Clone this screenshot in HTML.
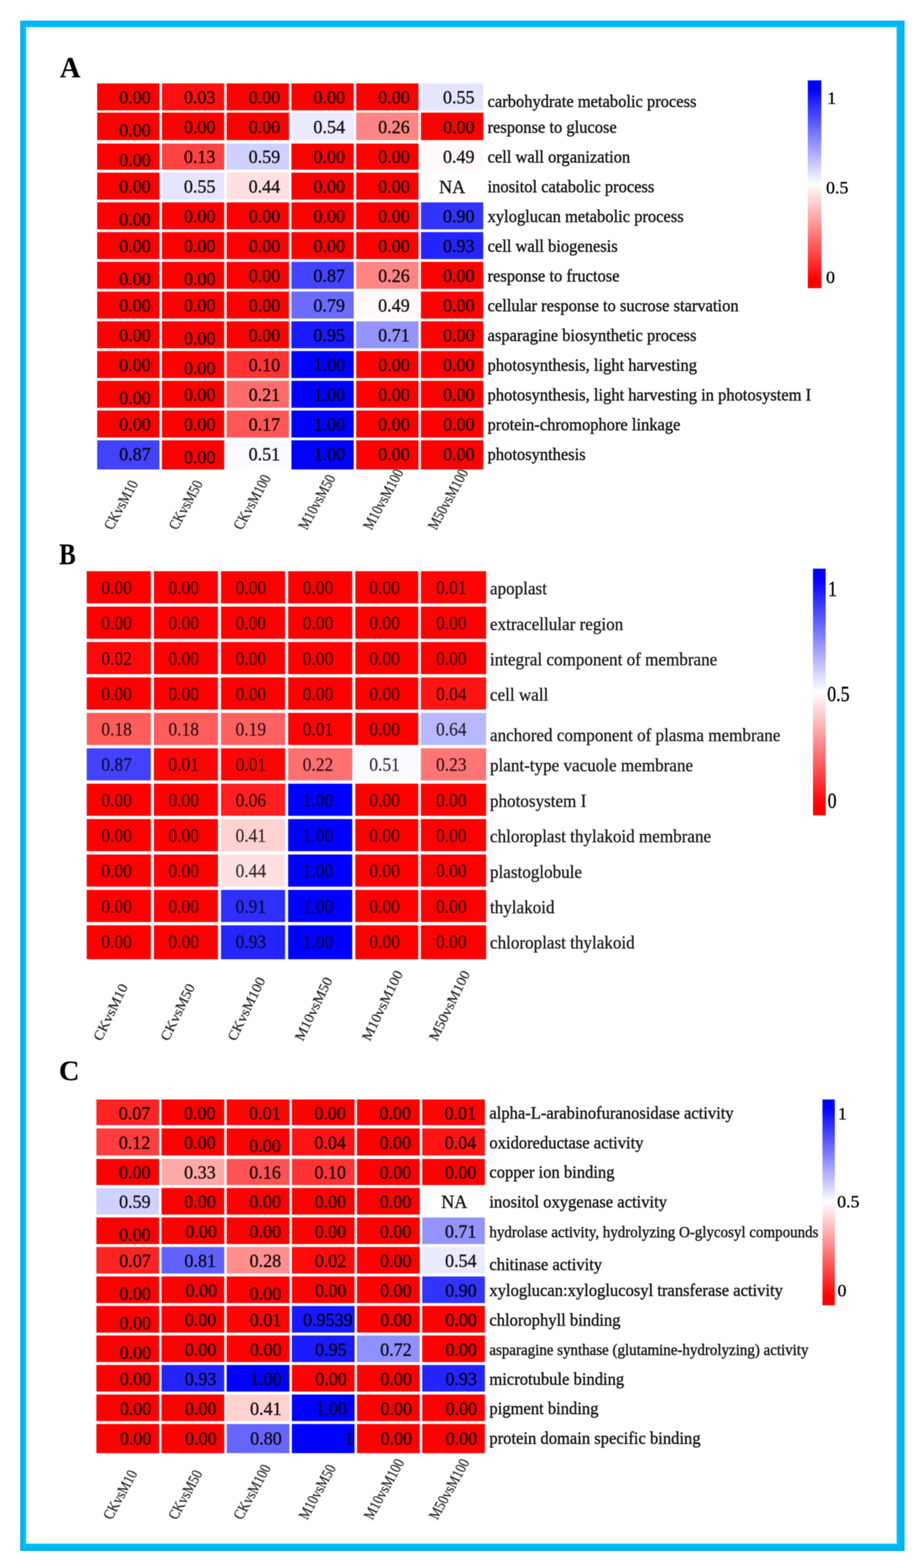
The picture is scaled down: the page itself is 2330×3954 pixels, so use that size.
<!DOCTYPE html>
<html lang="en"><head><meta charset="utf-8"><title>GO enrichment heatmaps</title>
<style>
html,body{margin:0;padding:0;background:#fff;}
body{width:2330px;height:3954px;overflow:hidden;}
svg{display:block;}
svg text{font-family:"Liberation Serif", "Times New Roman", serif;fill:#000;stroke:#000;paint-order:stroke fill;}
svg .cl text{stroke-width:0.5px;}
</style></head><body>
<svg width="2330" height="3954" viewBox="0 0 2330 3954" stroke-width="0.7">
<defs>
<linearGradient id="cb" x1="0" y1="0" x2="0" y2="1"><stop offset="0" stop-color="#0000ff"/><stop offset="0.04" stop-color="#0000ff"/><stop offset="0.5" stop-color="#ffffff"/><stop offset="0.96" stop-color="#ff0000"/><stop offset="1" stop-color="#ff0000"/></linearGradient>
<filter id="b1" x="-1%" y="-1%" width="102%" height="102%" color-interpolation-filters="sRGB"><feGaussianBlur stdDeviation="0.9"/></filter>
<filter id="b2" x="-2%" y="-2%" width="104%" height="104%" color-interpolation-filters="sRGB"><feGaussianBlur stdDeviation="0.9"/></filter>
</defs>
<rect width="2330" height="3954" fill="#ffffff"/>
<g id="frame">
<path fill="#b4edff" fill-rule="evenodd" d="M64.7 67.5H2262.1V3893.5H64.7ZM67.2 70V3891H2259.6V70Z"/>
<path fill="#00b3f4" fill-rule="evenodd" d="M51 52H2281V3911H51ZM65.2 68V3893H2261.6V68Z"/>
<path fill="#00bdfd" fill-rule="evenodd" d="M59.2 62H2267.6V3899H59.2ZM65.2 68V3893H2261.6V68Z"/>
</g>
<g id="panel-A">
<g filter="url(#b1)">
<rect x="2037" y="202.7" width="34" height="524" fill="url(#cb)"/>
<rect x="245" y="210.3" width="157" height="68" fill="rgb(255,0,0)"/>
<rect x="408.3" y="210.3" width="157" height="68" fill="rgb(255,15,15)"/>
<rect x="571.6" y="210.3" width="157" height="68" fill="rgb(255,0,0)"/>
<rect x="734.9" y="210.3" width="157" height="68" fill="rgb(255,0,0)"/>
<rect x="898.2" y="210.3" width="157" height="68" fill="rgb(255,0,0)"/>
<rect x="1061.5" y="210.3" width="157" height="68" fill="rgb(229,229,255)"/>
<rect x="245" y="284" width="157" height="69.3" fill="rgb(255,0,0)"/>
<rect x="408.3" y="284" width="157" height="69.3" fill="rgb(255,0,0)"/>
<rect x="571.6" y="284" width="157" height="69.3" fill="rgb(255,0,0)"/>
<rect x="734.9" y="284" width="157" height="69.3" fill="rgb(235,235,255)"/>
<rect x="898.2" y="284" width="157" height="69.3" fill="rgb(255,133,133)"/>
<rect x="1061.5" y="284" width="157" height="69.3" fill="rgb(255,0,0)"/>
<rect x="245" y="362" width="157" height="65.8" fill="rgb(255,0,0)"/>
<rect x="408.3" y="362" width="157" height="65.8" fill="rgb(255,66,66)"/>
<rect x="571.6" y="362" width="157" height="65.8" fill="rgb(209,209,255)"/>
<rect x="734.9" y="362" width="157" height="65.8" fill="rgb(255,0,0)"/>
<rect x="898.2" y="362" width="157" height="65.8" fill="rgb(255,0,0)"/>
<rect x="1061.5" y="362" width="157" height="65.8" fill="rgb(255,250,250)"/>
<rect x="245" y="435.3" width="157" height="68" fill="rgb(255,0,0)"/>
<rect x="408.3" y="435.3" width="157" height="68" fill="rgb(229,229,255)"/>
<rect x="571.6" y="435.3" width="157" height="68" fill="rgb(255,224,224)"/>
<rect x="734.9" y="435.3" width="157" height="68" fill="rgb(255,0,0)"/>
<rect x="898.2" y="435.3" width="157" height="68" fill="rgb(255,0,0)"/>
<rect x="245" y="510.3" width="157" height="68" fill="rgb(255,0,0)"/>
<rect x="408.3" y="510.3" width="157" height="68" fill="rgb(255,0,0)"/>
<rect x="571.6" y="510.3" width="157" height="68" fill="rgb(255,0,0)"/>
<rect x="734.9" y="510.3" width="157" height="68" fill="rgb(255,0,0)"/>
<rect x="898.2" y="510.3" width="157" height="68" fill="rgb(255,0,0)"/>
<rect x="1061.5" y="510.3" width="157" height="68" fill="rgb(51,51,255)"/>
<rect x="245" y="585.3" width="157" height="68" fill="rgb(255,0,0)"/>
<rect x="408.3" y="585.3" width="157" height="68" fill="rgb(255,0,0)"/>
<rect x="571.6" y="585.3" width="157" height="68" fill="rgb(255,0,0)"/>
<rect x="734.9" y="585.3" width="157" height="68" fill="rgb(255,0,0)"/>
<rect x="898.2" y="585.3" width="157" height="68" fill="rgb(255,0,0)"/>
<rect x="1061.5" y="585.3" width="157" height="68" fill="rgb(36,36,255)"/>
<rect x="245" y="660.3" width="157" height="68" fill="rgb(255,0,0)"/>
<rect x="408.3" y="660.3" width="157" height="68" fill="rgb(255,0,0)"/>
<rect x="571.6" y="660.3" width="157" height="68" fill="rgb(255,0,0)"/>
<rect x="734.9" y="660.3" width="157" height="68" fill="rgb(66,66,255)"/>
<rect x="898.2" y="660.3" width="157" height="68" fill="rgb(255,133,133)"/>
<rect x="1061.5" y="660.3" width="157" height="68" fill="rgb(255,0,0)"/>
<rect x="245" y="735.3" width="157" height="68" fill="rgb(255,0,0)"/>
<rect x="408.3" y="735.3" width="157" height="68" fill="rgb(255,0,0)"/>
<rect x="571.6" y="735.3" width="157" height="68" fill="rgb(255,0,0)"/>
<rect x="734.9" y="735.3" width="157" height="68" fill="rgb(107,107,255)"/>
<rect x="898.2" y="735.3" width="157" height="68" fill="rgb(255,250,250)"/>
<rect x="1061.5" y="735.3" width="157" height="68" fill="rgb(255,0,0)"/>
<rect x="245" y="810.3" width="157" height="68" fill="rgb(255,0,0)"/>
<rect x="408.3" y="810.3" width="157" height="68" fill="rgb(255,0,0)"/>
<rect x="571.6" y="810.3" width="157" height="68" fill="rgb(255,0,0)"/>
<rect x="734.9" y="810.3" width="157" height="68" fill="rgb(26,26,255)"/>
<rect x="898.2" y="810.3" width="157" height="68" fill="rgb(148,148,255)"/>
<rect x="1061.5" y="810.3" width="157" height="68" fill="rgb(255,0,0)"/>
<rect x="245" y="885.3" width="157" height="68" fill="rgb(255,0,0)"/>
<rect x="408.3" y="885.3" width="157" height="68" fill="rgb(255,0,0)"/>
<rect x="571.6" y="885.3" width="157" height="68" fill="rgb(255,51,51)"/>
<rect x="734.9" y="885.3" width="157" height="68" fill="rgb(0,0,255)"/>
<rect x="898.2" y="885.3" width="157" height="68" fill="rgb(255,0,0)"/>
<rect x="1061.5" y="885.3" width="157" height="68" fill="rgb(255,0,0)"/>
<rect x="245" y="960.3" width="157" height="68" fill="rgb(255,0,0)"/>
<rect x="408.3" y="960.3" width="157" height="68" fill="rgb(255,0,0)"/>
<rect x="571.6" y="960.3" width="157" height="68" fill="rgb(255,107,107)"/>
<rect x="734.9" y="960.3" width="157" height="68" fill="rgb(0,0,255)"/>
<rect x="898.2" y="960.3" width="157" height="68" fill="rgb(255,0,0)"/>
<rect x="1061.5" y="960.3" width="157" height="68" fill="rgb(255,0,0)"/>
<rect x="245" y="1035.3" width="157" height="68" fill="rgb(255,0,0)"/>
<rect x="408.3" y="1035.3" width="157" height="68" fill="rgb(255,0,0)"/>
<rect x="571.6" y="1035.3" width="157" height="68" fill="rgb(255,87,87)"/>
<rect x="734.9" y="1035.3" width="157" height="68" fill="rgb(0,0,255)"/>
<rect x="898.2" y="1035.3" width="157" height="68" fill="rgb(255,0,0)"/>
<rect x="1061.5" y="1035.3" width="157" height="68" fill="rgb(255,0,0)"/>
<rect x="245" y="1110.3" width="157" height="73.5" fill="rgb(66,66,255)"/>
<rect x="408.3" y="1110.3" width="157" height="73.5" fill="rgb(255,0,0)"/>
<rect x="571.6" y="1110.3" width="157" height="73.5" fill="rgb(250,250,255)"/>
<rect x="734.9" y="1110.3" width="157" height="73.5" fill="rgb(0,0,255)"/>
<rect x="898.2" y="1110.3" width="157" height="73.5" fill="rgb(255,0,0)"/>
<rect x="1061.5" y="1110.3" width="157" height="73.5" fill="rgb(255,0,0)"/>
</g>
<g filter="url(#b2)">
<text transform="translate(151 195) scale(1 1.02)" font-size="72" font-weight="bold" stroke-width="0.2">A</text>
<g stroke-width="0.8" opacity="0.92">
<text transform="translate(380 260.6) scale(1 1.03)" font-size="45.5" text-anchor="end">0.00</text>
<text transform="translate(543.3 260.6) scale(1 1.03)" font-size="45.5" text-anchor="end">0.03</text>
<text transform="translate(706.6 260.6) scale(1 1.03)" font-size="45.5" text-anchor="end">0.00</text>
<text transform="translate(869.9 260.6) scale(1 1.03)" font-size="45.5" text-anchor="end">0.00</text>
<text transform="translate(1033.2 260.6) scale(1 1.03)" font-size="45.5" text-anchor="end">0.00</text>
<text transform="translate(1196.5 260.6) scale(1 1.03)" font-size="45.5" text-anchor="end">0.55</text>
<text transform="translate(380 343.6) scale(1 1.03)" font-size="45.5" text-anchor="end">0.00</text>
<text transform="translate(543.3 335.6) scale(1 1.03)" font-size="45.5" text-anchor="end">0.00</text>
<text transform="translate(706.6 335.6) scale(1 1.03)" font-size="45.5" text-anchor="end">0.00</text>
<text transform="translate(869.9 335.6) scale(1 1.03)" font-size="45.5" text-anchor="end">0.54</text>
<text transform="translate(1033.2 335.6) scale(1 1.03)" font-size="45.5" text-anchor="end">0.26</text>
<text transform="translate(1196.5 335.6) scale(1 1.03)" font-size="45.5" text-anchor="end">0.00</text>
<text transform="translate(380 418.6) scale(1 1.03)" font-size="45.5" text-anchor="end">0.00</text>
<text transform="translate(543.3 410.6) scale(1 1.03)" font-size="45.5" text-anchor="end">0.13</text>
<text transform="translate(706.6 410.6) scale(1 1.03)" font-size="45.5" text-anchor="end">0.59</text>
<text transform="translate(869.9 410.6) scale(1 1.03)" font-size="45.5" text-anchor="end">0.00</text>
<text transform="translate(1033.2 410.6) scale(1 1.03)" font-size="45.5" text-anchor="end">0.00</text>
<text transform="translate(1196.5 410.6) scale(1 1.03)" font-size="45.5" text-anchor="end">0.49</text>
<text transform="translate(380 485.6) scale(1 1.03)" font-size="45.5" text-anchor="end">0.00</text>
<text transform="translate(543.3 485.6) scale(1 1.03)" font-size="45.5" text-anchor="end">0.55</text>
<text transform="translate(706.6 485.6) scale(1 1.03)" font-size="45.5" text-anchor="end">0.44</text>
<text transform="translate(869.9 485.6) scale(1 1.03)" font-size="45.5" text-anchor="end">0.00</text>
<text transform="translate(1033.2 485.6) scale(1 1.03)" font-size="45.5" text-anchor="end">0.00</text>
<text transform="translate(1173 487.1) scale(1 1.03)" font-size="45.5" text-anchor="end">NA</text>
<text transform="translate(380 568.6) scale(1 1.03)" font-size="45.5" text-anchor="end">0.00</text>
<text transform="translate(543.3 560.6) scale(1 1.03)" font-size="45.5" text-anchor="end">0.00</text>
<text transform="translate(706.6 560.6) scale(1 1.03)" font-size="45.5" text-anchor="end">0.00</text>
<text transform="translate(869.9 560.6) scale(1 1.03)" font-size="45.5" text-anchor="end">0.00</text>
<text transform="translate(1033.2 560.6) scale(1 1.03)" font-size="45.5" text-anchor="end">0.00</text>
<text transform="translate(1196.5 560.6) scale(1 1.03)" font-size="45.5" text-anchor="end">0.90</text>
<text transform="translate(380 635.6) scale(1 1.03)" font-size="45.5" text-anchor="end">0.00</text>
<text transform="translate(543.3 635.6) scale(1 1.03)" font-size="45.5" text-anchor="end">0.00</text>
<text transform="translate(706.6 635.6) scale(1 1.03)" font-size="45.5" text-anchor="end">0.00</text>
<text transform="translate(869.9 635.6) scale(1 1.03)" font-size="45.5" text-anchor="end">0.00</text>
<text transform="translate(1033.2 635.6) scale(1 1.03)" font-size="45.5" text-anchor="end">0.00</text>
<text transform="translate(1196.5 635.6) scale(1 1.03)" font-size="45.5" text-anchor="end">0.93</text>
<text transform="translate(380 718.6) scale(1 1.03)" font-size="45.5" text-anchor="end">0.00</text>
<text transform="translate(543.3 718.6) scale(1 1.03)" font-size="45.5" text-anchor="end">0.00</text>
<text transform="translate(706.6 710.6) scale(1 1.03)" font-size="45.5" text-anchor="end">0.00</text>
<text transform="translate(869.9 710.6) scale(1 1.03)" font-size="45.5" text-anchor="end">0.87</text>
<text transform="translate(1033.2 710.6) scale(1 1.03)" font-size="45.5" text-anchor="end">0.26</text>
<text transform="translate(1196.5 710.6) scale(1 1.03)" font-size="45.5" text-anchor="end">0.00</text>
<text transform="translate(380 785.6) scale(1 1.03)" font-size="45.5" text-anchor="end">0.00</text>
<text transform="translate(543.3 785.6) scale(1 1.03)" font-size="45.5" text-anchor="end">0.00</text>
<text transform="translate(706.6 785.6) scale(1 1.03)" font-size="45.5" text-anchor="end">0.00</text>
<text transform="translate(869.9 785.6) scale(1 1.03)" font-size="45.5" text-anchor="end">0.79</text>
<text transform="translate(1033.2 785.6) scale(1 1.03)" font-size="45.5" text-anchor="end">0.49</text>
<text transform="translate(1196.5 785.6) scale(1 1.03)" font-size="45.5" text-anchor="end">0.00</text>
<text transform="translate(380 860.6) scale(1 1.03)" font-size="45.5" text-anchor="end">0.00</text>
<text transform="translate(543.3 868.6) scale(1 1.03)" font-size="45.5" text-anchor="end">0.00</text>
<text transform="translate(706.6 860.6) scale(1 1.03)" font-size="45.5" text-anchor="end">0.00</text>
<text transform="translate(869.9 860.6) scale(1 1.03)" font-size="45.5" text-anchor="end">0.95</text>
<text transform="translate(1033.2 860.6) scale(1 1.03)" font-size="45.5" text-anchor="end">0.71</text>
<text transform="translate(1196.5 860.6) scale(1 1.03)" font-size="45.5" text-anchor="end">0.00</text>
<text transform="translate(380 935.6) scale(1 1.03)" font-size="45.5" text-anchor="end">0.00</text>
<text transform="translate(543.3 943.6) scale(1 1.03)" font-size="45.5" text-anchor="end">0.00</text>
<text transform="translate(706.6 935.6) scale(1 1.03)" font-size="45.5" text-anchor="end">0.10</text>
<text transform="translate(869.9 935.6) scale(1 1.03)" font-size="45.5" text-anchor="end">1.00</text>
<text transform="translate(1033.2 935.6) scale(1 1.03)" font-size="45.5" text-anchor="end">0.00</text>
<text transform="translate(1196.5 935.6) scale(1 1.03)" font-size="45.5" text-anchor="end">0.00</text>
<text transform="translate(380 1018.6) scale(1 1.03)" font-size="45.5" text-anchor="end">0.00</text>
<text transform="translate(543.3 1010.6) scale(1 1.03)" font-size="45.5" text-anchor="end">0.00</text>
<text transform="translate(706.6 1010.6) scale(1 1.03)" font-size="45.5" text-anchor="end">0.21</text>
<text transform="translate(869.9 1010.6) scale(1 1.03)" font-size="45.5" text-anchor="end">1.00</text>
<text transform="translate(1033.2 1010.6) scale(1 1.03)" font-size="45.5" text-anchor="end">0.00</text>
<text transform="translate(1196.5 1010.6) scale(1 1.03)" font-size="45.5" text-anchor="end">0.00</text>
<text transform="translate(380 1085.6) scale(1 1.03)" font-size="45.5" text-anchor="end">0.00</text>
<text transform="translate(543.3 1085.6) scale(1 1.03)" font-size="45.5" text-anchor="end">0.00</text>
<text transform="translate(706.6 1085.6) scale(1 1.03)" font-size="45.5" text-anchor="end">0.17</text>
<text transform="translate(869.9 1085.6) scale(1 1.03)" font-size="45.5" text-anchor="end">1.00</text>
<text transform="translate(1033.2 1085.6) scale(1 1.03)" font-size="45.5" text-anchor="end">0.00</text>
<text transform="translate(1196.5 1085.6) scale(1 1.03)" font-size="45.5" text-anchor="end">0.00</text>
<text transform="translate(380 1160.6) scale(1 1.03)" font-size="45.5" text-anchor="end">0.87</text>
<text transform="translate(543.3 1168.6) scale(1 1.03)" font-size="45.5" text-anchor="end">0.00</text>
<text transform="translate(706.6 1160.6) scale(1 1.03)" font-size="45.5" text-anchor="end">0.51</text>
<text transform="translate(869.9 1160.6) scale(1 1.03)" font-size="45.5" text-anchor="end">1.00</text>
<text transform="translate(1033.2 1160.6) scale(1 1.03)" font-size="45.5" text-anchor="end">0.00</text>
<text transform="translate(1196.5 1160.6) scale(1 1.03)" font-size="45.5" text-anchor="end">0.00</text>
</g>
<g stroke-width="0.9" opacity="0.92">
<text transform="translate(1229.5 269.6) scale(1 1.04)" font-size="41.6">carbohydrate metabolic process</text>
<text transform="translate(1229.5 334.6) scale(1 1.04)" font-size="41.6">response to glucose</text>
<text transform="translate(1229.5 409.6) scale(1 1.04)" font-size="41.6">cell wall organization</text>
<text transform="translate(1229.5 484.6) scale(1 1.04)" font-size="41.6">inositol catabolic process</text>
<text transform="translate(1229.5 559.6) scale(1 1.04)" font-size="41.6">xyloglucan metabolic process</text>
<text transform="translate(1229.5 634.6) scale(1 1.04)" font-size="41.6">cell wall biogenesis</text>
<text transform="translate(1229.5 709.6) scale(1 1.04)" font-size="41.6">response to fructose</text>
<text transform="translate(1229.5 784.6) scale(1 1.04)" font-size="41.6">cellular response to sucrose starvation</text>
<text transform="translate(1229.5 859.6) scale(1 1.04)" font-size="41.6">asparagine biosynthetic process</text>
<text transform="translate(1229.5 934.6) scale(1 1.04)" font-size="41.6">photosynthesis, light harvesting</text>
<text transform="translate(1229.5 1009.6) scale(1 1.04)" font-size="41.6">photosynthesis, light harvesting in photosystem I</text>
<text transform="translate(1229.5 1084.6) scale(1 1.04)" font-size="41.6">protein-chromophore linkage</text>
<text transform="translate(1229.5 1159.6) scale(1 1.04)" font-size="41.6">photosynthesis</text>
</g>
<g class="cl" opacity="0.85">
<text transform="matrix(0.4945 -0.8921 1.0876 0.5071 283.5 1338)" font-size="32">CKvsM10</text>
<text transform="matrix(0.4945 -0.8921 1.0876 0.5071 446.8 1338)" font-size="32">CKvsM50</text>
<text transform="matrix(0.4945 -0.8921 1.0876 0.5071 610.1 1338)" font-size="32">CKvsM100</text>
<text transform="matrix(0.4945 -0.8921 1.0876 0.5071 773.4 1338)" font-size="32">M10vsM50</text>
<text transform="matrix(0.4945 -0.8921 1.0876 0.5071 936.7 1338)" font-size="32">M10vsM100</text>
<text transform="matrix(0.4945 -0.8921 1.0876 0.5071 1100 1338)" font-size="32">M50vsM100</text>
</g>
<text x="2086" y="262" font-size="45">1</text>
<text x="2083" y="487.5" font-size="45">0.5</text>
<text x="2083" y="714" font-size="45">0</text>
</g>
</g>
<g id="panel-B">
<g filter="url(#b1)">
<rect x="2050" y="1434" width="32" height="622" fill="url(#cb)"/>
<rect x="218.7" y="1440.4" width="161.5" height="81" fill="rgb(255,0,0)"/>
<rect x="388" y="1440.4" width="161.5" height="81" fill="rgb(255,0,0)"/>
<rect x="557.3" y="1440.4" width="161.5" height="81" fill="rgb(255,0,0)"/>
<rect x="726.6" y="1440.4" width="161.5" height="81" fill="rgb(255,0,0)"/>
<rect x="896" y="1440.4" width="158.6" height="81" fill="rgb(255,0,0)"/>
<rect x="1061.4" y="1440.4" width="164.4" height="81" fill="rgb(255,5,5)"/>
<rect x="218.7" y="1529.7" width="161.5" height="81" fill="rgb(255,0,0)"/>
<rect x="388" y="1529.7" width="161.5" height="81" fill="rgb(255,0,0)"/>
<rect x="557.3" y="1529.7" width="161.5" height="81" fill="rgb(255,0,0)"/>
<rect x="726.6" y="1529.7" width="161.5" height="81" fill="rgb(255,0,0)"/>
<rect x="896" y="1529.7" width="158.6" height="81" fill="rgb(255,0,0)"/>
<rect x="1061.4" y="1529.7" width="164.4" height="81" fill="rgb(255,0,0)"/>
<rect x="218.7" y="1619" width="161.5" height="81" fill="rgb(255,10,10)"/>
<rect x="388" y="1619" width="161.5" height="81" fill="rgb(255,0,0)"/>
<rect x="557.3" y="1619" width="161.5" height="81" fill="rgb(255,0,0)"/>
<rect x="726.6" y="1619" width="161.5" height="81" fill="rgb(255,0,0)"/>
<rect x="896" y="1619" width="158.6" height="81" fill="rgb(255,0,0)"/>
<rect x="1061.4" y="1619" width="164.4" height="81" fill="rgb(255,0,0)"/>
<rect x="218.7" y="1708.3" width="161.5" height="81" fill="rgb(255,0,0)"/>
<rect x="388" y="1708.3" width="161.5" height="81" fill="rgb(255,0,0)"/>
<rect x="557.3" y="1708.3" width="161.5" height="81" fill="rgb(255,0,0)"/>
<rect x="726.6" y="1708.3" width="161.5" height="81" fill="rgb(255,0,0)"/>
<rect x="896" y="1708.3" width="158.6" height="81" fill="rgb(255,0,0)"/>
<rect x="1061.4" y="1708.3" width="164.4" height="81" fill="rgb(255,20,20)"/>
<rect x="218.7" y="1797.6" width="161.5" height="81" fill="rgb(255,92,92)"/>
<rect x="388" y="1797.6" width="161.5" height="81" fill="rgb(255,92,92)"/>
<rect x="557.3" y="1797.6" width="161.5" height="81" fill="rgb(255,97,97)"/>
<rect x="726.6" y="1797.6" width="161.5" height="81" fill="rgb(255,5,5)"/>
<rect x="896" y="1797.6" width="158.6" height="81" fill="rgb(255,0,0)"/>
<rect x="1061.4" y="1797.6" width="164.4" height="81" fill="rgb(184,184,255)"/>
<rect x="218.7" y="1886.9" width="161.5" height="81" fill="rgb(66,66,255)"/>
<rect x="388" y="1886.9" width="161.5" height="81" fill="rgb(255,5,5)"/>
<rect x="557.3" y="1886.9" width="161.5" height="81" fill="rgb(255,5,5)"/>
<rect x="726.6" y="1886.9" width="161.5" height="81" fill="rgb(255,112,112)"/>
<rect x="896" y="1886.9" width="158.6" height="81" fill="rgb(250,250,255)"/>
<rect x="1061.4" y="1886.9" width="164.4" height="81" fill="rgb(255,117,117)"/>
<rect x="218.7" y="1976.2" width="161.5" height="81" fill="rgb(255,0,0)"/>
<rect x="388" y="1976.2" width="161.5" height="81" fill="rgb(255,0,0)"/>
<rect x="557.3" y="1976.2" width="161.5" height="81" fill="rgb(255,31,31)"/>
<rect x="726.6" y="1976.2" width="161.5" height="81" fill="rgb(0,0,255)"/>
<rect x="896" y="1976.2" width="158.6" height="81" fill="rgb(255,0,0)"/>
<rect x="1061.4" y="1976.2" width="164.4" height="81" fill="rgb(255,0,0)"/>
<rect x="218.7" y="2065.5" width="161.5" height="81" fill="rgb(255,0,0)"/>
<rect x="388" y="2065.5" width="161.5" height="81" fill="rgb(255,0,0)"/>
<rect x="557.3" y="2065.5" width="161.5" height="81" fill="rgb(255,209,209)"/>
<rect x="726.6" y="2065.5" width="161.5" height="81" fill="rgb(0,0,255)"/>
<rect x="896" y="2065.5" width="158.6" height="81" fill="rgb(255,0,0)"/>
<rect x="1061.4" y="2065.5" width="164.4" height="81" fill="rgb(255,0,0)"/>
<rect x="218.7" y="2154.8" width="161.5" height="81" fill="rgb(255,0,0)"/>
<rect x="388" y="2154.8" width="161.5" height="81" fill="rgb(255,0,0)"/>
<rect x="557.3" y="2154.8" width="161.5" height="81" fill="rgb(255,224,224)"/>
<rect x="726.6" y="2154.8" width="161.5" height="81" fill="rgb(0,0,255)"/>
<rect x="896" y="2154.8" width="158.6" height="81" fill="rgb(255,0,0)"/>
<rect x="1061.4" y="2154.8" width="164.4" height="81" fill="rgb(255,0,0)"/>
<rect x="218.7" y="2244.1" width="161.5" height="81" fill="rgb(255,0,0)"/>
<rect x="388" y="2244.1" width="161.5" height="81" fill="rgb(255,0,0)"/>
<rect x="557.3" y="2244.1" width="161.5" height="81" fill="rgb(46,46,255)"/>
<rect x="726.6" y="2244.1" width="161.5" height="81" fill="rgb(0,0,255)"/>
<rect x="896" y="2244.1" width="158.6" height="81" fill="rgb(255,0,0)"/>
<rect x="1061.4" y="2244.1" width="164.4" height="81" fill="rgb(255,0,0)"/>
<rect x="218.7" y="2333.4" width="161.5" height="85.5" fill="rgb(255,0,0)"/>
<rect x="388" y="2333.4" width="161.5" height="85.5" fill="rgb(255,0,0)"/>
<rect x="557.3" y="2333.4" width="161.5" height="85.5" fill="rgb(36,36,255)"/>
<rect x="726.6" y="2333.4" width="161.5" height="85.5" fill="rgb(0,0,255)"/>
<rect x="896" y="2333.4" width="158.6" height="85.5" fill="rgb(255,0,0)"/>
<rect x="1061.4" y="2333.4" width="164.4" height="85.5" fill="rgb(255,0,0)"/>
</g>
<g filter="url(#b2)">
<text transform="translate(149 1423) scale(1 1.21)" font-size="63" font-weight="bold" stroke-width="0.2">B</text>
<g stroke-width="0.4" opacity="0.82">
<text transform="translate(293.95 1497.9) scale(1 1.1)" font-size="44" text-anchor="middle">0.00</text>
<text transform="translate(463.25 1497.9) scale(1 1.1)" font-size="44" text-anchor="middle">0.00</text>
<text transform="translate(632.55 1497.9) scale(1 1.1)" font-size="44" text-anchor="middle">0.00</text>
<text transform="translate(801.85 1497.9) scale(1 1.1)" font-size="44" text-anchor="middle">0.00</text>
<text transform="translate(969.8 1497.9) scale(1 1.1)" font-size="44" text-anchor="middle">0.00</text>
<text transform="translate(1138.1 1497.9) scale(1 1.1)" font-size="44" text-anchor="middle">0.01</text>
<text transform="translate(293.95 1587.2) scale(1 1.1)" font-size="44" text-anchor="middle">0.00</text>
<text transform="translate(463.25 1587.2) scale(1 1.1)" font-size="44" text-anchor="middle">0.00</text>
<text transform="translate(632.55 1587.2) scale(1 1.1)" font-size="44" text-anchor="middle">0.00</text>
<text transform="translate(801.85 1587.2) scale(1 1.1)" font-size="44" text-anchor="middle">0.00</text>
<text transform="translate(969.8 1587.2) scale(1 1.1)" font-size="44" text-anchor="middle">0.00</text>
<text transform="translate(1138.1 1587.2) scale(1 1.1)" font-size="44" text-anchor="middle">0.00</text>
<text transform="translate(293.95 1676.5) scale(1 1.1)" font-size="44" text-anchor="middle">0.02</text>
<text transform="translate(463.25 1676.5) scale(1 1.1)" font-size="44" text-anchor="middle">0.00</text>
<text transform="translate(632.55 1676.5) scale(1 1.1)" font-size="44" text-anchor="middle">0.00</text>
<text transform="translate(801.85 1676.5) scale(1 1.1)" font-size="44" text-anchor="middle">0.00</text>
<text transform="translate(969.8 1676.5) scale(1 1.1)" font-size="44" text-anchor="middle">0.00</text>
<text transform="translate(1138.1 1676.5) scale(1 1.1)" font-size="44" text-anchor="middle">0.00</text>
<text transform="translate(293.95 1765.8) scale(1 1.1)" font-size="44" text-anchor="middle">0.00</text>
<text transform="translate(463.25 1765.8) scale(1 1.1)" font-size="44" text-anchor="middle">0.00</text>
<text transform="translate(632.55 1765.8) scale(1 1.1)" font-size="44" text-anchor="middle">0.00</text>
<text transform="translate(801.85 1765.8) scale(1 1.1)" font-size="44" text-anchor="middle">0.00</text>
<text transform="translate(969.8 1765.8) scale(1 1.1)" font-size="44" text-anchor="middle">0.00</text>
<text transform="translate(1138.1 1765.8) scale(1 1.1)" font-size="44" text-anchor="middle">0.04</text>
<text transform="translate(293.95 1855.1) scale(1 1.1)" font-size="44" text-anchor="middle">0.18</text>
<text transform="translate(463.25 1855.1) scale(1 1.1)" font-size="44" text-anchor="middle">0.18</text>
<text transform="translate(632.55 1855.1) scale(1 1.1)" font-size="44" text-anchor="middle">0.19</text>
<text transform="translate(801.85 1855.1) scale(1 1.1)" font-size="44" text-anchor="middle">0.01</text>
<text transform="translate(969.8 1855.1) scale(1 1.1)" font-size="44" text-anchor="middle">0.00</text>
<text transform="translate(1138.1 1855.1) scale(1 1.1)" font-size="44" text-anchor="middle">0.64</text>
<text transform="translate(293.95 1944.4) scale(1 1.1)" font-size="44" text-anchor="middle">0.87</text>
<text transform="translate(463.25 1944.4) scale(1 1.1)" font-size="44" text-anchor="middle">0.01</text>
<text transform="translate(632.55 1944.4) scale(1 1.1)" font-size="44" text-anchor="middle">0.01</text>
<text transform="translate(801.85 1944.4) scale(1 1.1)" font-size="44" text-anchor="middle">0.22</text>
<text transform="translate(969.8 1944.4) scale(1 1.1)" font-size="44" text-anchor="middle">0.51</text>
<text transform="translate(1138.1 1944.4) scale(1 1.1)" font-size="44" text-anchor="middle">0.23</text>
<text transform="translate(293.95 2033.7) scale(1 1.1)" font-size="44" text-anchor="middle">0.00</text>
<text transform="translate(463.25 2033.7) scale(1 1.1)" font-size="44" text-anchor="middle">0.00</text>
<text transform="translate(632.55 2033.7) scale(1 1.1)" font-size="44" text-anchor="middle">0.06</text>
<text transform="translate(801.85 2033.7) scale(1 1.1)" font-size="44" text-anchor="middle">1.00</text>
<text transform="translate(969.8 2033.7) scale(1 1.1)" font-size="44" text-anchor="middle">0.00</text>
<text transform="translate(1138.1 2033.7) scale(1 1.1)" font-size="44" text-anchor="middle">0.00</text>
<text transform="translate(293.95 2123) scale(1 1.1)" font-size="44" text-anchor="middle">0.00</text>
<text transform="translate(463.25 2123) scale(1 1.1)" font-size="44" text-anchor="middle">0.00</text>
<text transform="translate(632.55 2123) scale(1 1.1)" font-size="44" text-anchor="middle">0.41</text>
<text transform="translate(801.85 2123) scale(1 1.1)" font-size="44" text-anchor="middle">1.00</text>
<text transform="translate(969.8 2123) scale(1 1.1)" font-size="44" text-anchor="middle">0.00</text>
<text transform="translate(1138.1 2123) scale(1 1.1)" font-size="44" text-anchor="middle">0.00</text>
<text transform="translate(293.95 2212.3) scale(1 1.1)" font-size="44" text-anchor="middle">0.00</text>
<text transform="translate(463.25 2212.3) scale(1 1.1)" font-size="44" text-anchor="middle">0.00</text>
<text transform="translate(632.55 2212.3) scale(1 1.1)" font-size="44" text-anchor="middle">0.44</text>
<text transform="translate(801.85 2212.3) scale(1 1.1)" font-size="44" text-anchor="middle">1.00</text>
<text transform="translate(969.8 2212.3) scale(1 1.1)" font-size="44" text-anchor="middle">0.00</text>
<text transform="translate(1138.1 2212.3) scale(1 1.1)" font-size="44" text-anchor="middle">0.00</text>
<text transform="translate(293.95 2301.6) scale(1 1.1)" font-size="44" text-anchor="middle">0.00</text>
<text transform="translate(463.25 2301.6) scale(1 1.1)" font-size="44" text-anchor="middle">0.00</text>
<text transform="translate(632.55 2301.6) scale(1 1.1)" font-size="44" text-anchor="middle">0.91</text>
<text transform="translate(801.85 2301.6) scale(1 1.1)" font-size="44" text-anchor="middle">1.00</text>
<text transform="translate(969.8 2301.6) scale(1 1.1)" font-size="44" text-anchor="middle">0.00</text>
<text transform="translate(1138.1 2301.6) scale(1 1.1)" font-size="44" text-anchor="middle">0.00</text>
<text transform="translate(293.95 2390.9) scale(1 1.1)" font-size="44" text-anchor="middle">0.00</text>
<text transform="translate(463.25 2390.9) scale(1 1.1)" font-size="44" text-anchor="middle">0.00</text>
<text transform="translate(632.55 2390.9) scale(1 1.1)" font-size="44" text-anchor="middle">0.93</text>
<text transform="translate(801.85 2390.9) scale(1 1.1)" font-size="44" text-anchor="middle">1.00</text>
<text transform="translate(969.8 2390.9) scale(1 1.1)" font-size="44" text-anchor="middle">0.00</text>
<text transform="translate(1138.1 2390.9) scale(1 1.1)" font-size="44" text-anchor="middle">0.00</text>
</g>
<g stroke-width="0.7" opacity="0.9">
<text transform="translate(1235.5 1499.4) scale(1 1.07)" font-size="43.1">apoplast</text>
<text transform="translate(1235.5 1588.7) scale(1 1.07)" font-size="43.1">extracellular region</text>
<text transform="translate(1235.5 1678) scale(1 1.07)" font-size="43.1">integral component of membrane</text>
<text transform="translate(1235.5 1767.3) scale(1 1.07)" font-size="43.1">cell wall</text>
<text transform="translate(1235.5 1868.6) scale(1 1.07)" font-size="43.1">anchored component of plasma membrane</text>
<text transform="translate(1235.5 1944.9) scale(1 1.07)" font-size="43.1">plant-type vacuole membrane</text>
<text transform="translate(1235.5 2035.2) scale(1 1.07)" font-size="43.1">photosystem I</text>
<text transform="translate(1235.5 2124.5) scale(1 1.07)" font-size="43.1">chloroplast thylakoid membrane</text>
<text transform="translate(1235.5 2213.8) scale(1 1.07)" font-size="43.1">plastoglobule</text>
<text transform="translate(1235.5 2303.1) scale(1 1.07)" font-size="43.1">thylakoid</text>
<text transform="translate(1235.5 2392.4) scale(1 1.07)" font-size="43.1">chloroplast thylakoid</text>
</g>
<g class="cl" opacity="0.85">
<text transform="matrix(0.5085 -1.0426 0.9887 0.4822 255.3 2627)" font-size="32">CKvsM10</text>
<text transform="matrix(0.5085 -1.0426 0.9887 0.4822 424.6 2627)" font-size="32">CKvsM50</text>
<text transform="matrix(0.5085 -1.0426 0.9887 0.4822 593.9 2627)" font-size="32">CKvsM100</text>
<text transform="matrix(0.5085 -1.0426 0.9887 0.4822 763.2 2627)" font-size="32">M10vsM50</text>
<text transform="matrix(0.5085 -1.0426 0.9887 0.4822 932.5 2627)" font-size="32">M10vsM100</text>
<text transform="matrix(0.5085 -1.0426 0.9887 0.4822 1101.8 2627)" font-size="32">M50vsM100</text>
</g>
<text transform="translate(2088 1503) scale(1 1.2)" font-size="45">1</text>
<text transform="translate(2086 1768) scale(1 1.2)" font-size="45">0.5</text>
<text transform="translate(2087 2037) scale(1 1.2)" font-size="45">0</text>
</g>
</g>
<g id="panel-C">
<g filter="url(#b1)">
<rect x="2074" y="2772.5" width="31" height="519" fill="url(#cb)"/>
<rect x="243.1" y="2772.5" width="158" height="64.8" fill="rgb(255,36,36)"/>
<rect x="407.4" y="2772.5" width="158" height="64.8" fill="rgb(255,0,0)"/>
<rect x="571.7" y="2772.5" width="158" height="64.8" fill="rgb(255,5,5)"/>
<rect x="736" y="2772.5" width="158" height="64.8" fill="rgb(255,0,0)"/>
<rect x="900.3" y="2772.5" width="158" height="64.8" fill="rgb(255,0,0)"/>
<rect x="1064.6" y="2772.5" width="158" height="64.8" fill="rgb(255,5,5)"/>
<rect x="243.1" y="2845.5" width="158" height="68.3" fill="rgb(255,61,61)"/>
<rect x="407.4" y="2845.5" width="158" height="68.3" fill="rgb(255,0,0)"/>
<rect x="571.7" y="2845.5" width="158" height="68.3" fill="rgb(255,0,0)"/>
<rect x="736" y="2845.5" width="158" height="68.3" fill="rgb(255,20,20)"/>
<rect x="900.3" y="2845.5" width="158" height="68.3" fill="rgb(255,0,0)"/>
<rect x="1064.6" y="2845.5" width="158" height="68.3" fill="rgb(255,20,20)"/>
<rect x="243.1" y="2922.5" width="158" height="65.8" fill="rgb(255,0,0)"/>
<rect x="407.4" y="2922.5" width="158" height="65.8" fill="rgb(255,168,168)"/>
<rect x="571.7" y="2922.5" width="158" height="65.8" fill="rgb(255,82,82)"/>
<rect x="736" y="2922.5" width="158" height="65.8" fill="rgb(255,51,51)"/>
<rect x="900.3" y="2922.5" width="158" height="65.8" fill="rgb(255,0,0)"/>
<rect x="1064.6" y="2922.5" width="158" height="65.8" fill="rgb(255,0,0)"/>
<rect x="243.1" y="2995.7" width="158" height="67" fill="rgb(209,209,255)"/>
<rect x="407.4" y="2995.7" width="158" height="67" fill="rgb(255,0,0)"/>
<rect x="571.7" y="2995.7" width="158" height="67" fill="rgb(255,0,0)"/>
<rect x="736" y="2995.7" width="158" height="67" fill="rgb(255,0,0)"/>
<rect x="900.3" y="2995.7" width="158" height="67" fill="rgb(255,0,0)"/>
<rect x="243.1" y="3070.1" width="158" height="67" fill="rgb(255,0,0)"/>
<rect x="407.4" y="3070.1" width="158" height="67" fill="rgb(255,0,0)"/>
<rect x="571.7" y="3070.1" width="158" height="67" fill="rgb(255,0,0)"/>
<rect x="736" y="3070.1" width="158" height="67" fill="rgb(255,0,0)"/>
<rect x="900.3" y="3070.1" width="158" height="67" fill="rgb(255,0,0)"/>
<rect x="1064.6" y="3070.1" width="158" height="67" fill="rgb(148,148,255)"/>
<rect x="243.1" y="3144.5" width="158" height="67" fill="rgb(255,36,36)"/>
<rect x="407.4" y="3144.5" width="158" height="67" fill="rgb(97,97,255)"/>
<rect x="571.7" y="3144.5" width="158" height="67" fill="rgb(255,143,143)"/>
<rect x="736" y="3144.5" width="158" height="67" fill="rgb(255,10,10)"/>
<rect x="900.3" y="3144.5" width="158" height="67" fill="rgb(255,0,0)"/>
<rect x="1064.6" y="3144.5" width="158" height="67" fill="rgb(235,235,255)"/>
<rect x="243.1" y="3218.9" width="158" height="67" fill="rgb(255,0,0)"/>
<rect x="407.4" y="3218.9" width="158" height="67" fill="rgb(255,0,0)"/>
<rect x="571.7" y="3218.9" width="158" height="67" fill="rgb(255,0,0)"/>
<rect x="736" y="3218.9" width="158" height="67" fill="rgb(255,0,0)"/>
<rect x="900.3" y="3218.9" width="158" height="67" fill="rgb(255,0,0)"/>
<rect x="1064.6" y="3218.9" width="158" height="67" fill="rgb(51,51,255)"/>
<rect x="243.1" y="3293.3" width="158" height="67" fill="rgb(255,0,0)"/>
<rect x="407.4" y="3293.3" width="158" height="67" fill="rgb(255,0,0)"/>
<rect x="571.7" y="3293.3" width="158" height="67" fill="rgb(255,5,5)"/>
<rect x="736" y="3293.3" width="158" height="67" fill="rgb(24,24,255)"/>
<rect x="900.3" y="3293.3" width="158" height="67" fill="rgb(255,0,0)"/>
<rect x="1064.6" y="3293.3" width="158" height="67" fill="rgb(255,0,0)"/>
<rect x="243.1" y="3367.7" width="158" height="67" fill="rgb(255,0,0)"/>
<rect x="407.4" y="3367.7" width="158" height="67" fill="rgb(255,0,0)"/>
<rect x="571.7" y="3367.7" width="158" height="67" fill="rgb(255,0,0)"/>
<rect x="736" y="3367.7" width="158" height="67" fill="rgb(26,26,255)"/>
<rect x="900.3" y="3367.7" width="158" height="67" fill="rgb(143,143,255)"/>
<rect x="1064.6" y="3367.7" width="158" height="67" fill="rgb(255,0,0)"/>
<rect x="243.1" y="3442.1" width="158" height="67" fill="rgb(255,0,0)"/>
<rect x="407.4" y="3442.1" width="158" height="67" fill="rgb(36,36,255)"/>
<rect x="571.7" y="3442.1" width="158" height="67" fill="rgb(0,0,255)"/>
<rect x="736" y="3442.1" width="158" height="67" fill="rgb(255,0,0)"/>
<rect x="900.3" y="3442.1" width="158" height="67" fill="rgb(255,0,0)"/>
<rect x="1064.6" y="3442.1" width="158" height="67" fill="rgb(36,36,255)"/>
<rect x="243.1" y="3516.5" width="158" height="67" fill="rgb(255,0,0)"/>
<rect x="407.4" y="3516.5" width="158" height="67" fill="rgb(255,0,0)"/>
<rect x="571.7" y="3516.5" width="158" height="67" fill="rgb(255,209,209)"/>
<rect x="736" y="3516.5" width="158" height="67" fill="rgb(0,0,255)"/>
<rect x="900.3" y="3516.5" width="158" height="67" fill="rgb(255,0,0)"/>
<rect x="1064.6" y="3516.5" width="158" height="67" fill="rgb(255,0,0)"/>
<rect x="243.1" y="3590.9" width="158" height="73.5" fill="rgb(255,0,0)"/>
<rect x="407.4" y="3590.9" width="158" height="73.5" fill="rgb(255,0,0)"/>
<rect x="571.7" y="3590.9" width="158" height="73.5" fill="rgb(102,102,255)"/>
<rect x="736" y="3590.9" width="158" height="73.5" fill="rgb(0,0,255)"/>
<rect x="900.3" y="3590.9" width="158" height="73.5" fill="rgb(255,0,0)"/>
<rect x="1064.6" y="3590.9" width="158" height="73.5" fill="rgb(255,0,0)"/>
</g>
<g filter="url(#b2)">
<text x="148.5" y="2724" font-size="72" font-weight="bold" stroke-width="0.2">C</text>
<g stroke-width="0.8" opacity="0.92">
<text transform="translate(379.1 2822.8) scale(1 1.03)" font-size="45.5" text-anchor="end">0.07</text>
<text transform="translate(543.4 2822.8) scale(1 1.03)" font-size="45.5" text-anchor="end">0.00</text>
<text transform="translate(707.7 2822.8) scale(1 1.03)" font-size="45.5" text-anchor="end">0.01</text>
<text transform="translate(872 2822.8) scale(1 1.03)" font-size="45.5" text-anchor="end">0.00</text>
<text transform="translate(1036.3 2822.8) scale(1 1.03)" font-size="45.5" text-anchor="end">0.00</text>
<text transform="translate(1200.6 2822.8) scale(1 1.03)" font-size="45.5" text-anchor="end">0.01</text>
<text transform="translate(379.35 2897.32) scale(1 1.03)" font-size="45.5" text-anchor="end">0.12</text>
<text transform="translate(543.65 2897.32) scale(1 1.03)" font-size="45.5" text-anchor="end">0.00</text>
<text transform="translate(707.95 2905.32) scale(1 1.03)" font-size="45.5" text-anchor="end">0.00</text>
<text transform="translate(872.25 2897.32) scale(1 1.03)" font-size="45.5" text-anchor="end">0.04</text>
<text transform="translate(1036.55 2897.32) scale(1 1.03)" font-size="45.5" text-anchor="end">0.00</text>
<text transform="translate(1200.85 2897.32) scale(1 1.03)" font-size="45.5" text-anchor="end">0.04</text>
<text transform="translate(379.6 2971.84) scale(1 1.03)" font-size="45.5" text-anchor="end">0.00</text>
<text transform="translate(543.9 2971.84) scale(1 1.03)" font-size="45.5" text-anchor="end">0.33</text>
<text transform="translate(708.2 2971.84) scale(1 1.03)" font-size="45.5" text-anchor="end">0.16</text>
<text transform="translate(872.5 2971.84) scale(1 1.03)" font-size="45.5" text-anchor="end">0.10</text>
<text transform="translate(1036.8 2971.84) scale(1 1.03)" font-size="45.5" text-anchor="end">0.00</text>
<text transform="translate(1201.1 2971.84) scale(1 1.03)" font-size="45.5" text-anchor="end">0.00</text>
<text transform="translate(379.85 3046.36) scale(1 1.03)" font-size="45.5" text-anchor="end">0.59</text>
<text transform="translate(544.15 3046.36) scale(1 1.03)" font-size="45.5" text-anchor="end">0.00</text>
<text transform="translate(708.45 3046.36) scale(1 1.03)" font-size="45.5" text-anchor="end">0.00</text>
<text transform="translate(872.75 3046.36) scale(1 1.03)" font-size="45.5" text-anchor="end">0.00</text>
<text transform="translate(1037.05 3046.36) scale(1 1.03)" font-size="45.5" text-anchor="end">0.00</text>
<text transform="translate(1178.35 3046.36) scale(1 1.03)" font-size="45.5" text-anchor="end">NA</text>
<text transform="translate(380.1 3128.88) scale(1 1.03)" font-size="45.5" text-anchor="end">0.00</text>
<text transform="translate(546.9 3120.88) scale(1 1.03)" font-size="45.5" text-anchor="end">0.00</text>
<text transform="translate(708.7 3120.88) scale(1 1.03)" font-size="45.5" text-anchor="end">0.00</text>
<text transform="translate(873 3120.88) scale(1 1.03)" font-size="45.5" text-anchor="end">0.00</text>
<text transform="translate(1037.3 3120.88) scale(1 1.03)" font-size="45.5" text-anchor="end">0.00</text>
<text transform="translate(1201.6 3120.88) scale(1 1.03)" font-size="45.5" text-anchor="end">0.71</text>
<text transform="translate(380.35 3195.4) scale(1 1.03)" font-size="45.5" text-anchor="end">0.07</text>
<text transform="translate(544.65 3195.4) scale(1 1.03)" font-size="45.5" text-anchor="end">0.81</text>
<text transform="translate(708.95 3195.4) scale(1 1.03)" font-size="45.5" text-anchor="end">0.28</text>
<text transform="translate(873.25 3195.4) scale(1 1.03)" font-size="45.5" text-anchor="end">0.02</text>
<text transform="translate(1037.55 3195.4) scale(1 1.03)" font-size="45.5" text-anchor="end">0.00</text>
<text transform="translate(1201.85 3195.4) scale(1 1.03)" font-size="45.5" text-anchor="end">0.54</text>
<text transform="translate(380.6 3277.92) scale(1 1.03)" font-size="45.5" text-anchor="end">0.00</text>
<text transform="translate(547.4 3269.92) scale(1 1.03)" font-size="45.5" text-anchor="end">0.00</text>
<text transform="translate(709.2 3277.92) scale(1 1.03)" font-size="45.5" text-anchor="end">0.00</text>
<text transform="translate(873.5 3269.92) scale(1 1.03)" font-size="45.5" text-anchor="end">0.00</text>
<text transform="translate(1037.8 3269.92) scale(1 1.03)" font-size="45.5" text-anchor="end">0.00</text>
<text transform="translate(1202.1 3269.92) scale(1 1.03)" font-size="45.5" text-anchor="end">0.90</text>
<text transform="translate(380.85 3352.44) scale(1 1.03)" font-size="45.5" text-anchor="end">0.00</text>
<text transform="translate(545.15 3344.44) scale(1 1.03)" font-size="45.5" text-anchor="end">0.00</text>
<text transform="translate(709.45 3344.44) scale(1 1.03)" font-size="45.5" text-anchor="end">0.01</text>
<text transform="translate(889.25 3344.44) scale(1 1.03)" font-size="45.5" text-anchor="end">0.9539</text>
<text transform="translate(1038.05 3344.44) scale(1 1.03)" font-size="45.5" text-anchor="end">0.00</text>
<text transform="translate(1202.35 3344.44) scale(1 1.03)" font-size="45.5" text-anchor="end">0.00</text>
<text transform="translate(381.1 3426.96) scale(1 1.03)" font-size="45.5" text-anchor="end">0.00</text>
<text transform="translate(545.4 3418.96) scale(1 1.03)" font-size="45.5" text-anchor="end">0.00</text>
<text transform="translate(709.7 3418.96) scale(1 1.03)" font-size="45.5" text-anchor="end">0.00</text>
<text transform="translate(874 3418.96) scale(1 1.03)" font-size="45.5" text-anchor="end">0.95</text>
<text transform="translate(1038.3 3418.96) scale(1 1.03)" font-size="45.5" text-anchor="end">0.72</text>
<text transform="translate(1202.6 3418.96) scale(1 1.03)" font-size="45.5" text-anchor="end">0.00</text>
<text transform="translate(381.35 3493.48) scale(1 1.03)" font-size="45.5" text-anchor="end">0.00</text>
<text transform="translate(545.65 3493.48) scale(1 1.03)" font-size="45.5" text-anchor="end">0.93</text>
<text transform="translate(709.95 3493.48) scale(1 1.03)" font-size="45.5" text-anchor="end">1.00</text>
<text transform="translate(874.25 3493.48) scale(1 1.03)" font-size="45.5" text-anchor="end">0.00</text>
<text transform="translate(1038.55 3493.48) scale(1 1.03)" font-size="45.5" text-anchor="end">0.00</text>
<text transform="translate(1202.85 3493.48) scale(1 1.03)" font-size="45.5" text-anchor="end">0.93</text>
<text transform="translate(381.6 3568) scale(1 1.03)" font-size="45.5" text-anchor="end">0.00</text>
<text transform="translate(545.9 3568) scale(1 1.03)" font-size="45.5" text-anchor="end">0.00</text>
<text transform="translate(710.2 3568) scale(1 1.03)" font-size="45.5" text-anchor="end">0.41</text>
<text transform="translate(874.5 3568) scale(1 1.03)" font-size="45.5" text-anchor="end">1.00</text>
<text transform="translate(1038.8 3568) scale(1 1.03)" font-size="45.5" text-anchor="end">0.00</text>
<text transform="translate(1203.1 3568) scale(1 1.03)" font-size="45.5" text-anchor="end">0.00</text>
<text transform="translate(381.85 3642.52) scale(1 1.03)" font-size="45.5" text-anchor="end">0.00</text>
<text transform="translate(546.15 3642.52) scale(1 1.03)" font-size="45.5" text-anchor="end">0.00</text>
<text transform="translate(710.45 3642.52) scale(1 1.03)" font-size="45.5" text-anchor="end">0.80</text>
<text transform="translate(891.75 3642.52) scale(1 1.03)" font-size="45.5" text-anchor="end">1</text>
<text transform="translate(1039.05 3642.52) scale(1 1.03)" font-size="45.5" text-anchor="end">0.00</text>
<text transform="translate(1203.35 3642.52) scale(1 1.03)" font-size="45.5" text-anchor="end">0.00</text>
</g>
<g stroke-width="0.9" opacity="0.92">
<text transform="translate(1234 2821.2) scale(1 1.04)" font-size="41.8">alpha-L-arabinofuranosidase activity</text>
<text transform="translate(1234 2895.72) scale(1 1.04)" font-size="41.8">oxidoreductase activity</text>
<text transform="translate(1234 2970.24) scale(1 1.04)" font-size="41.8">copper ion binding</text>
<text transform="translate(1234 3044.76) scale(1 1.04)" font-size="41.8">inositol oxygenase activity</text>
<text transform="translate(1234 3120.08) scale(1 1.04)" font-size="37.8">hydrolase activity, hydrolyzing O-glycosyl compounds</text>
<text transform="translate(1234 3203.3) scale(1 1.04)" font-size="41.8">chitinase activity</text>
<text transform="translate(1234 3268.32) scale(1 1.04)" font-size="41.8">xyloglucan:xyloglucosyl transferase activity</text>
<text transform="translate(1234 3342.84) scale(1 1.04)" font-size="41.8">chlorophyll binding</text>
<text transform="translate(1234 3417.36) scale(1 1.04)" font-size="37.8">asparagine synthase (glutamine-hydrolyzing) activity</text>
<text transform="translate(1234 3491.88) scale(1 1.04)" font-size="41.8">microtubule binding</text>
<text transform="translate(1234 3566.4) scale(1 1.04)" font-size="41.8">pigment binding</text>
<text transform="translate(1234 3640.92) scale(1 1.04)" font-size="41.8">protein domain specific binding</text>
</g>
<g class="cl" opacity="0.85">
<text transform="matrix(0.4945 -0.8921 1.0876 0.5071 281.5 3834)" font-size="32">CKvsM10</text>
<text transform="matrix(0.4945 -0.8921 1.0876 0.5071 445.8 3834)" font-size="32">CKvsM50</text>
<text transform="matrix(0.4945 -0.8921 1.0876 0.5071 610.1 3834)" font-size="32">CKvsM100</text>
<text transform="matrix(0.4945 -0.8921 1.0876 0.5071 774.4 3834)" font-size="32">M10vsM50</text>
<text transform="matrix(0.4945 -0.8921 1.0876 0.5071 938.7 3834)" font-size="32">M10vsM100</text>
<text transform="matrix(0.4945 -0.8921 1.0876 0.5071 1103 3834)" font-size="32">M50vsM100</text>
</g>
<text x="2113" y="2822.5" font-size="45">1</text>
<text x="2111" y="3045" font-size="45">0.5</text>
<text x="2112" y="3268.5" font-size="45">0</text>
</g>
</g>
</svg>
</body></html>
